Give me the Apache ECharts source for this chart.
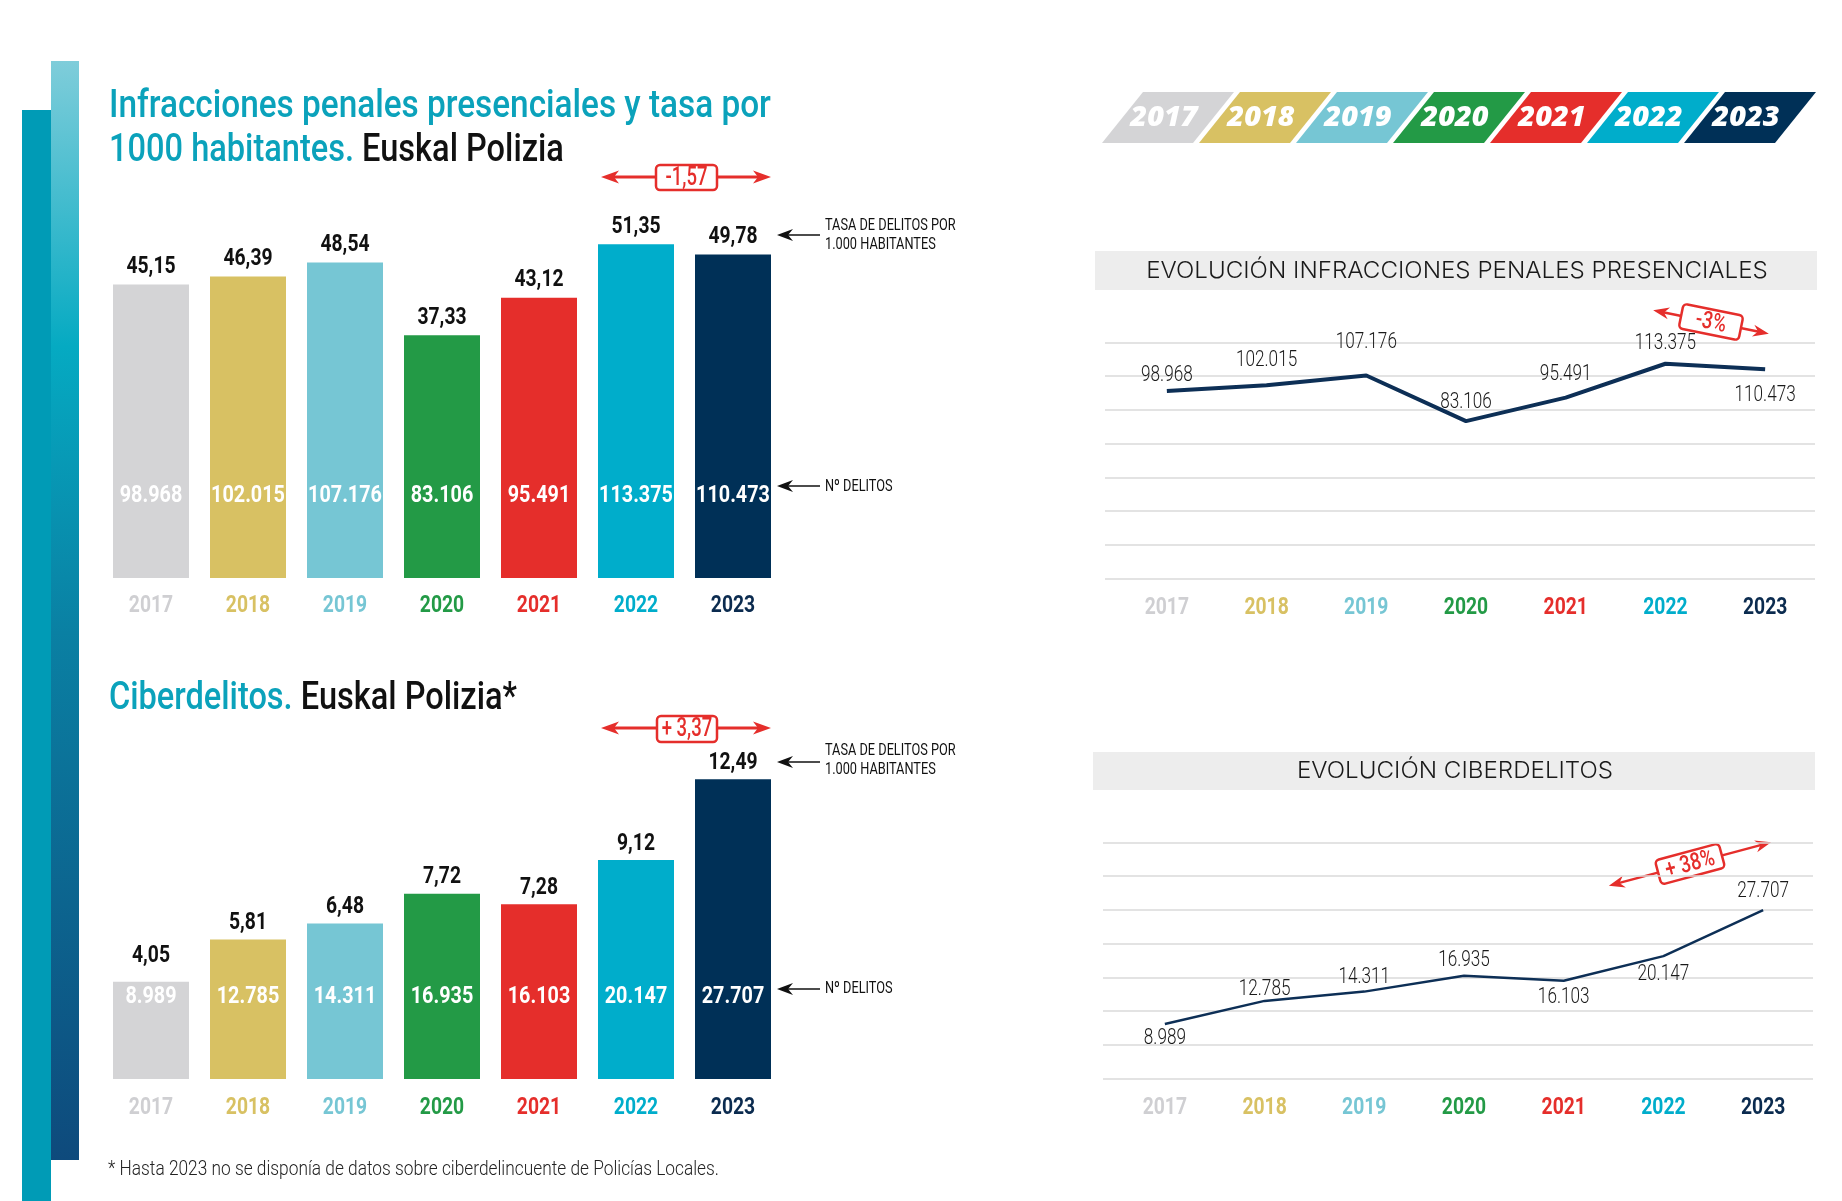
<!DOCTYPE html>
<html>
<head>
<meta charset="utf-8">
<script src="https://cdn.jsdelivr.net/npm/echarts@6/dist/echarts.min.js"></script>
<style>
html,body{margin:0;padding:0;background:#fff;}
#c{width:1842px;height:1201px;}
</style>
</head>
<body>
<div id="c"></div>
<script>
// ---------- DATA ----------
const years = ['2017', '2018', '2019', '2020', '2021', '2022', '2023'];
const tasaPresencial = [45.15, 46.39, 48.54, 37.33, 43.12, 51.35, 49.78];
const delitosPresencial = [98968, 102015, 107176, 83106, 95491, 113375, 110473];
const tasaCiber = [4.05, 5.81, 6.48, 7.72, 7.28, 9.12, 12.49];
const delitosCiber = [8989, 12785, 14311, 16935, 16103, 20147, 27707];
const difTasaPresencial = '-1,57';
const difTasaCiber = '+ 3,37';
const difPctPresencial = '-3%';
const difPctCiber = '+ 38%';

// ---------- STYLE ----------
const yearColors = ['#D4D4D6', '#D8C163', '#76C6D4', '#239A46', '#E52E2B', '#00ADCB', '#003057'];
const labelYearColors = ['#CFCFD2', '#D8C163', '#76C6D4', '#239A46', '#E52E2B', '#00ADCB', '#0B2B4F'];
const RED = '#E52E2B';
const TEAL = '#0BA2BB';
const RB = 'Roboto, sans-serif';
const line1Dy = [-16, -25, -33, -19, -23, -20, 26];
const line2Dy = [14, -11, -14, -15, 17, 18, -19];

const fmtK = v => String(v).replace(/\B(?=(\d{3})+(?!\d))/g, '.');
const fmtD = v => v.toFixed(2).replace('.', ',');

const chart = echarts.init(document.getElementById('c'), null, {renderer: 'canvas'});

function catAxis(grid) {
  return {
    type: 'category', gridIndex: grid, data: years,
    axisLine: {show: false}, axisTick: {show: false}, splitLine: {show: false},
    axisLabel: {show: false}
  };
}
function hiddenVal(grid, min, max, interval, lines) {
  return {
    type: 'value', gridIndex: grid, min: min, max: max, interval: interval,
    axisLine: {show: false}, axisTick: {show: false}, axisLabel: {show: false},
    splitLine: {show: !!lines, lineStyle: {color: '#DADADA', width: 1.5}}
  };
}

function ctext(x, y, txt, font, fill, sx, align, extra) {
  return Object.assign({type: 'text', x: x, y: y, scaleX: sx || 1,
    style: {text: txt, fill: fill, font: font, textAlign: align || 'center', textVerticalAlign: 'middle'}}, extra || {});
}

function redArrowH(x1, x2, y, boxX1, boxX2, boxY1, boxY2, txt) {
  const els = [];
  els.push({type: 'line', shape: {x1: x1 + 12, y1: y, x2: x2 - 12, y2: y}, style: {stroke: RED, lineWidth: 3}});
  els.push({type: 'polygon', shape: {points: [[x1, y], [x1 + 18, y - 6.5], [x1 + 13, y], [x1 + 18, y + 6.5]]}, style: {fill: RED}});
  els.push({type: 'polygon', shape: {points: [[x2, y], [x2 - 18, y - 6.5], [x2 - 13, y], [x2 - 18, y + 6.5]]}, style: {fill: RED}});
  els.push({type: 'rect', shape: {x: boxX1, y: boxY1, width: boxX2 - boxX1, height: boxY2 - boxY1, r: 4}, style: {fill: '#fff', stroke: RED, lineWidth: 2.5}});
  els.push(ctext((boxX1 + boxX2) / 2, (boxY1 + boxY2) / 2 + 1, txt, '500 25px ' + RB, RED, 0.74));
  return els;
}
function redArrowRot(cx, cy, len, rot, bw, bh, txt) {
  const h = len / 2;
  return {
    type: 'group', x: cx, y: cy, rotation: rot,
    children: [
      {type: 'line', shape: {x1: -h + 10, y1: 0, x2: h - 10, y2: 0}, style: {stroke: RED, lineWidth: 2.5}},
      {type: 'polygon', shape: {points: [[-h, 0], [-h + 16, -6], [-h + 11, 0], [-h + 16, 6]]}, style: {fill: RED}},
      {type: 'polygon', shape: {points: [[h, 0], [h - 16, -6], [h - 11, 0], [h - 16, 6]]}, style: {fill: RED}},
      {type: 'rect', shape: {x: -bw / 2, y: -bh / 2, width: bw, height: bh, r: 4}, style: {fill: '#fff', stroke: RED, lineWidth: 2.5}},
      ctext(0, 1, txt, '500 24px ' + RB, RED, 0.78)
    ]
  };
}
function blackArrow(xTail, xHead, y) {
  return [
    {type: 'line', shape: {x1: xTail, y1: y, x2: xHead + 10, y2: y}, style: {stroke: '#111', lineWidth: 1.5}},
    {type: 'polygon', shape: {points: [[xHead, y], [xHead + 16, y - 6], [xHead + 11, y], [xHead + 16, y + 6]]}, style: {fill: '#111'}}
  ];
}
function note(x, y, txt) {
  return ctext(x, y, txt, '17px ' + RB, '#111', 0.75, 'left');
}

// ---------- GRAPHICS (decoration) ----------
const graphics = [];
graphics.push({type: 'rect', shape: {x: 22, y: 110, width: 29, height: 1091}, style: {fill: '#009BB6'}});
graphics.push({type: 'rect', shape: {x: 51, y: 61, width: 28, height: 1099}, style: {
  fill: new echarts.graphic.LinearGradient(0, 0, 0, 1, [
    {offset: 0, color: '#7FCDDA'}, {offset: 0.26, color: '#05AAC2'},
    {offset: 0.52, color: '#0A80A3'}, {offset: 1, color: '#0E4A7C'}])
}});
const TSX = 0.855, TSX2 = 0.835;
graphics.push(ctext(109, 107, 'Infracciones penales presenciales y tasa por', '500 39px ' + RB, TEAL, TSX, 'left'));
graphics.push({type: 'text', x: 109, y: 151, scaleX: TSX2, style: {text: '{a|1000 habitantes.}{b| Euskal Polizia}', textVerticalAlign: 'middle',
  rich: {a: {fill: TEAL, font: '500 39px ' + RB}, b: {fill: '#111', font: '500 39px ' + RB}}}});
graphics.push({type: 'text', x: 109, y: 699, scaleX: TSX2, style: {text: '{a|Ciberdelitos.}{b| Euskal Polizia*}', textVerticalAlign: 'middle',
  rich: {a: {fill: TEAL, font: '500 39px ' + RB}, b: {fill: '#111', font: '500 39px ' + RB}}}});
graphics.push(ctext(108, 1170, '* Hasta 2023 no se disponía de datos sobre ciberdelincuente de Policías Locales.', '300 20px ' + RB, '#222', 0.865, 'left'));
graphics.push(...redArrowH(601, 771, 177, 656, 717, 165, 190, difTasaPresencial));
graphics.push(...redArrowH(601, 771, 728, 657, 717, 716, 742, difTasaCiber));
graphics.push(...blackArrow(820, 777, 235));
graphics.push(note(825, 226, 'TASA DE DELITOS POR'));
graphics.push(note(825, 245, '1.000 HABITANTES'));
graphics.push(...blackArrow(820, 777, 486));
graphics.push(note(825, 487, 'Nº DELITOS'));
graphics.push(...blackArrow(820, 777, 762));
graphics.push(note(825, 751, 'TASA DE DELITOS POR'));
graphics.push(note(825, 770, '1.000 HABITANTES'));
graphics.push(...blackArrow(820, 777, 989));
graphics.push(note(825, 989, 'Nº DELITOS'));
years.forEach((y, i) => {
  const tl = 1143 + 97 * i;
  graphics.push({type: 'polygon', shape: {points: [[tl, 92], [tl + 91, 92], [tl + 50, 143], [tl - 41, 143]]}, style: {fill: yearColors[i]}});
  graphics.push(ctext(tl + 21, 118, y, 'italic 800 29px "Open Sans", sans-serif', '#fff', 1));
});
graphics.push({type: 'rect', shape: {x: 1095, y: 251, width: 722, height: 39}, style: {fill: '#EDEDED'}});
graphics.push(ctext(1457, 271, 'EVOLUCIÓN INFRACCIONES PENALES PRESENCIALES', '300 23px Inter, sans-serif', '#1a1a1a', 1.05));
graphics.push({type: 'rect', shape: {x: 1093, y: 752, width: 722, height: 38}, style: {fill: '#EDEDED'}});
graphics.push(ctext(1455, 771, 'EVOLUCIÓN CIBERDELITOS', '300 23px Inter, sans-serif', '#1a1a1a', 1.05));
graphics.push(redArrowRot(1711, 322, 118, -0.2, 61, 25, difPctPresencial));
graphics.push(redArrowRot(1690, 864, 168, 0.262, 66, 25, difPctCiber));

// ---------- SERIES ----------
function textSeries(xi, values, textFn, colorFn, font, sx, dyFn, base) {
  return {
    type: 'custom', xAxisIndex: xi, yAxisIndex: xi, clip: false, silent: true, z: 10,
    data: values.map((v, i) => [i, v]),
    encode: {x: 0, y: 1},
    renderItem: (params, api) => {
      const i = api.value(0);
      const p = api.coord([i, base ? 0 : api.value(1)]);
      return ctext(p[0], p[1] + dyFn(i), textFn(i, api.value(1)), font, colorFn(i), sx);
    }
  };
}
function barBlock(xi, tasa, delitos, topDy, yearDy) {
  return [
    {
      type: 'bar', xAxisIndex: xi, yAxisIndex: xi, barWidth: 76,
      data: tasa.map((v, i) => ({value: v, itemStyle: {color: yearColors[i]}})),
      emphasis: {disabled: true}, silent: true
    },
    textSeries(xi, tasa, (i, v) => fmtD(v), () => '#111', 'bold 23px ' + RB, 0.84, topDy),
    textSeries(xi, delitos, (i) => fmtK(delitos[i]), () => '#fff', 'bold 23px ' + RB, 0.86, () => -82, true),
    textSeries(xi, tasa, (i) => years[i], i => labelYearColors[i], 'bold 23px ' + RB, 0.84, () => yearDy, true)
  ];
}
function lineBlock(xi, data, dy, width) {
  return [
    {
      type: 'line', xAxisIndex: xi, yAxisIndex: xi, symbol: 'none',
      lineStyle: {color: '#0D2F56', width: width}, z: 5,
      data: data, emphasis: {disabled: true}, silent: true
    },
    textSeries(xi, data, (i, v) => fmtK(v), () => '#1a1a1a', '300 22px ' + RB, 0.78, i => dy[i]),
    textSeries(xi, data, (i) => years[i], i => labelYearColors[i], 'bold 23px ' + RB, 0.84, () => 30, true)
  ];
}

const option = {
  animation: false,
  backgroundColor: '#fff',
  grid: [
    {left: 102.5, top: 188, width: 679, height: 390},
    {left: 102.5, top: 719, width: 679, height: 360},
    {left: 1117, top: 342.5, width: 698, height: 236},
    {left: 1105, top: 342.5, width: 710, height: 236},
    {left: 1115, top: 842.3, width: 698, height: 236.4},
    {left: 1103, top: 842.3, width: 710, height: 236.4}
  ],
  xAxis: [
    catAxis(0), catAxis(1), catAxis(2),
    {type: 'value', gridIndex: 3, min: 0, max: 1, show: false},
    catAxis(4),
    {type: 'value', gridIndex: 5, min: 0, max: 1, show: false}
  ],
  yAxis: [
    hiddenVal(0, 0, 60, 10, false),
    hiddenVal(1, 0, 15, 5, false),
    hiddenVal(2, 0, 124600, 17800, false),
    hiddenVal(3, 0, 124600, 17800, true),
    hiddenVal(4, 0, 38850, 5550, false),
    hiddenVal(5, 0, 38850, 5550, true)
  ],
  series: [
    ...barBlock(0, tasaPresencial, delitosPresencial, () => -17, 28),
    ...barBlock(1, tasaCiber, delitosCiber, i => (i === 0 ? -26 : -16), 29),
    ...lineBlock(2, delitosPresencial, line1Dy, 4),
    ...lineBlock(4, delitosCiber, line2Dy, 2.5)
  ],
  graphic: {elements: graphics}
};
chart.setOption(option);
</script>
</body>
</html>
